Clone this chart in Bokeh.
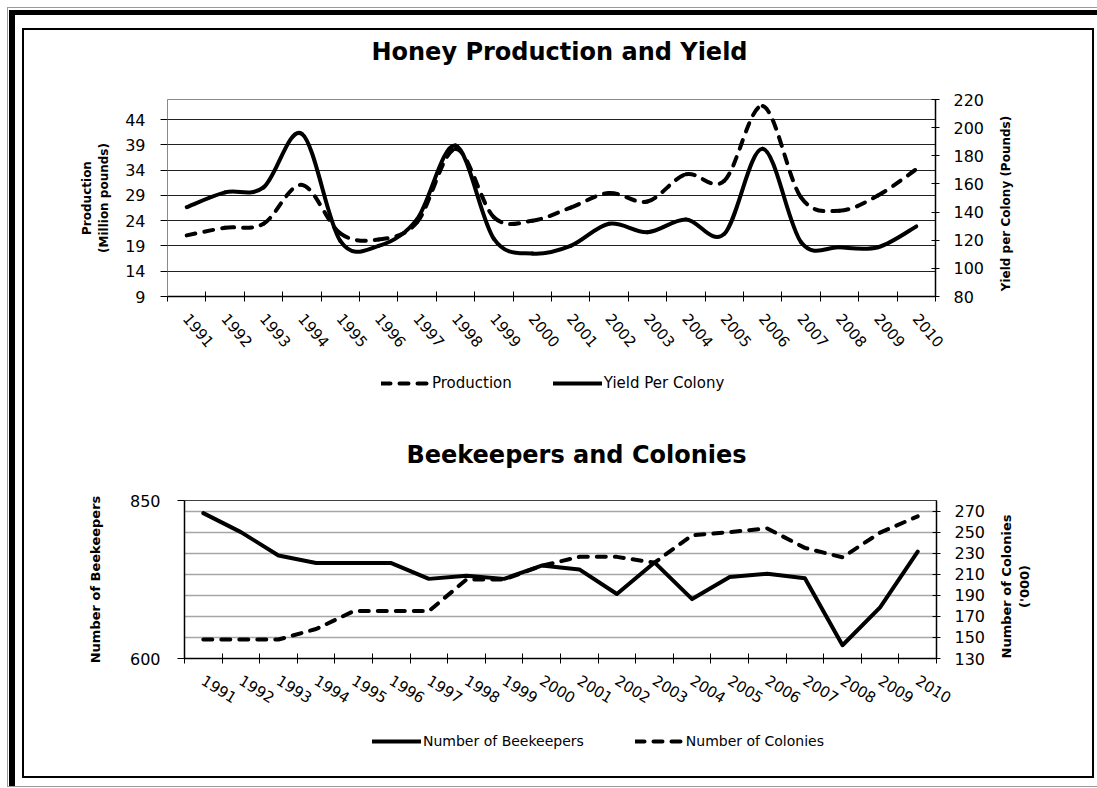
import math
from bokeh.plotting import figure
from bokeh.models import (Range1d, LinearAxis, FixedTicker, Legend, LegendItem,
                          ColumnDataSource, Label)
from bokeh.layouts import column, row
from bokeh.embed import file_html
from bokeh.resources import INLINE

# ---------------- data ----------------
years = [1991, 1992, 1993, 1994, 1995, 1996, 1997, 1998, 1999, 2000,
         2001, 2002, 2003, 2004, 2005, 2006, 2007, 2008, 2009, 2010]
production = [21.1, 22.6, 23.4, 31.1, 21.5, 20.3, 23.7, 38.2, 24.7, 24.0,
              26.6, 29.5, 27.8, 33.2, 31.9, 46.7, 28.6, 26.0, 29.0, 34.2]
yield_per_colony = [143.5, 154.0, 157.5, 195.6, 119.5, 116.0, 135.0, 187.3, 121.0, 110.5,
                    116.0, 131.7, 125.7, 134.7, 124.5, 185.0, 118.6, 115.0, 115.0, 129.8]
beekeepers = [830, 800, 763, 751, 751, 751, 726, 731, 726, 747,
              741, 702, 752, 694, 729, 734, 727, 621, 681, 769]
colonies = [148, 148, 148, 158, 175, 175, 175, 205, 205, 218,
            226.5, 226.5, 221, 247, 250, 253.5, 235, 226, 249.5, 265]

production_ticks = [9, 14, 19, 24, 29, 34, 39, 44]
yield_ticks = [80, 100, 120, 140, 160, 180, 200, 220]
beekeeper_ticks = [600, 850]
colony_ticks = [130, 150, 170, 190, 210, 230, 250, 270]

FONT = "DejaVu Sans"
FULL_W = 1068     # inner box content width
CHART_W = 966     # chart part, the rest holds the right-hand axis title
SIDE_W = FULL_W - CHART_W


def smooth_source(xs, ys):
    """Bezier segments through the data points (Catmull-Rom style smoothing)."""
    n = len(xs)
    d = dict(x0=[], y0=[], x1=[], y1=[], cx0=[], cy0=[], cx1=[], cy1=[])
    for i in range(n - 1):
        a = max(i - 1, 0)
        b = min(i + 2, n - 1)
        d["x0"].append(xs[i]); d["y0"].append(ys[i])
        d["x1"].append(xs[i + 1]); d["y1"].append(ys[i + 1])
        d["cx0"].append(xs[i] + (xs[i + 1] - xs[a]) / 6.0)
        d["cy0"].append(ys[i] + (ys[i + 1] - ys[a]) / 6.0)
        d["cx1"].append(xs[i + 1] - (xs[b] - xs[i]) / 6.0)
        d["cy1"].append(ys[i + 1] - (ys[b] - ys[i]) / 6.0)
    return ColumnDataSource(d)


def blank(w, h):
    """A figure without axes, used for titles, legends and side labels."""
    f = figure(width=w, height=h, x_range=Range1d(0, w), y_range=Range1d(0, h),
               x_axis_type=None, y_axis_type=None, output_backend="svg",
               toolbar_location=None, min_border=0, frame_align=False,
               background_fill_color="white", border_fill_color="white")
    f.outline_line_color = None
    f.xgrid.visible = False
    f.ygrid.visible = False
    return f


def text_fig(w, h, text, x, y, size, angle=0.0, bold=True):
    f = blank(w, h)
    f.add_layout(Label(x=x, y=y, text=text, angle=angle, text_align="center",
                       text_baseline="middle", text_font=FONT, text_font_size=size,
                       text_font_style="bold" if bold else "normal", text_color="black"))
    return f


def style_xaxis(ax, angle, standoff):
    ax.ticker = FixedTicker(ticks=years, minor_ticks=[y - 0.5 for y in years] + [years[-1] + 0.5])
    ax.major_tick_in = 0
    ax.major_tick_out = 0
    ax.minor_tick_in = 5
    ax.minor_tick_out = 5
    ax.minor_tick_line_color = "black"
    ax.minor_tick_line_width = 1
    ax.axis_line_color = "black"
    ax.axis_line_width = 1.5
    ax.major_label_orientation = angle
    ax.major_label_text_font = FONT
    ax.major_label_text_font_size = "15px"
    ax.major_label_text_color = "black"
    ax.major_label_standoff = standoff


def style_yaxis(ax, ticks, tin, tout, standoff, label=None, label_size="12px", label_standoff=10):
    ax.ticker = FixedTicker(ticks=ticks)
    ax.minor_tick_line_color = None
    ax.major_tick_in = tin
    ax.major_tick_out = tout
    ax.major_tick_line_color = "black"
    ax.major_label_text_font = FONT
    ax.major_label_text_font_size = "16px"
    ax.major_label_text_color = "black"
    ax.major_label_standoff = standoff
    if label:
        ax.axis_label = label
        ax.axis_label_text_font = FONT
        ax.axis_label_text_font_size = label_size
        ax.axis_label_text_font_style = "bold"
        ax.axis_label_text_color = "black"
        ax.axis_label_standoff = label_standoff


def legend_fig(h, items, x, y, spacing, size):
    """Legend strip; its key renderers sit outside the visible range (legend proxies only)."""
    f = blank(FULL_W, h)
    legend_items = []
    for label, dash in items:
        r = f.line(x=[-60, -50], y=[-60, -60], line_color="black", line_width=4,
                   line_dash=dash, line_cap="round")
        legend_items.append(LegendItem(label=label, renderers=[r]))
    f.add_layout(Legend(items=legend_items, orientation="horizontal", location=(x, y),
                        border_line_color=None, background_fill_alpha=0, glyph_width=49,
                        glyph_height=20, label_standoff=2, spacing=spacing, padding=0, margin=0,
                        label_text_font=FONT, label_text_font_size=size,
                        label_text_color="black"))
    return f


# ---------------- top chart ----------------
t1 = text_fig(FULL_W, 45, "Honey Production and Yield", 535, 24, "24px")

p1 = figure(width=CHART_W, height=283, x_range=Range1d(1990.5, 2010.5), y_range=Range1d(9, 48),
            output_backend="svg", toolbar_location=None, frame_align=False,
            min_border_left=143, min_border_right=55, min_border_top=24, min_border_bottom=62,
            background_fill_color="white", border_fill_color="white")
p1.extra_y_ranges = {"yld": Range1d(80, 220)}
p1.outline_line_color = "#8a8a8a"

style_xaxis(p1.xaxis[0], -0.87, 14)
style_yaxis(p1.yaxis[0], production_ticks, 0, 7, 15, "Production\n(Million pounds)", "12px", 11)
p1.yaxis[0].axis_line_color = "#8a8a8a"
rax1 = LinearAxis(y_range_name="yld")
style_yaxis(rax1, yield_ticks, 4, 4, 14)
rax1.axis_line_color = "black"
rax1.axis_line_width = 1.5
p1.add_layout(rax1, "right")

p1.xgrid.visible = False
p1.ygrid.grid_line_color = "#202020"
p1.ygrid.grid_line_width = 1

p1.bezier(x0="x0", y0="y0", x1="x1", y1="y1", cx0="cx0", cy0="cy0", cx1="cx1", cy1="cy1",
          source=smooth_source(years, production), line_color="black", line_width=4,
          line_dash="9 9", line_cap="round")
p1.bezier(x0="x0", y0="y0", x1="x1", y1="y1", cx0="cx0", cy0="cy0", cx1="cx1", cy1="cy1",
          source=smooth_source(years, yield_per_colony), line_color="black", line_width=4,
          line_cap="round", y_range_name="yld")

side1 = text_fig(SIDE_W, 283, "Yield per Colony (Pounds)", 15, 155, "12px", angle=math.pi / 2)
leg1 = legend_fig(50, [("Production", "9 9"), ("Yield Per Colony", "solid")], 357, 15, 41, "15px")

# ---------------- bottom chart ----------------
t2 = text_fig(FULL_W, 70, "Beekeepers and Colonies", 552, 24, "24px")

p2 = figure(width=CHART_W, height=234, x_range=Range1d(1990.5, 2010.5), y_range=Range1d(600, 850),
            output_backend="svg", toolbar_location=None, frame_align=False,
            min_border_left=160, min_border_right=54, min_border_top=22, min_border_bottom=54,
            background_fill_color="white", border_fill_color="white")
p2.extra_y_ranges = {"col": Range1d(130, 280)}
p2.outline_line_color = "#404040"

style_xaxis(p2.xaxis[0], -0.56, 15)
style_yaxis(p2.yaxis[0], beekeeper_ticks, 0, 7, 17, "Number of Beekeepers", "13px", 24)
p2.yaxis[0].axis_line_color = "black"
p2.yaxis[0].axis_line_width = 1.5
rax2 = LinearAxis(y_range_name="col")
style_yaxis(rax2, colony_ticks, 4, 4, 14)
rax2.axis_line_color = "black"
rax2.axis_line_width = 1.5
p2.add_layout(rax2, "right")

p2.xgrid.visible = False
p2.ygrid.y_range_name = "col"
p2.ygrid.ticker = FixedTicker(ticks=colony_ticks)
p2.ygrid.grid_line_color = "#a6a6a6"
p2.ygrid.grid_line_width = 1.5

p2.line(years, beekeepers, line_color="black", line_width=4, line_join="round", line_cap="round")
p2.line(years, colonies, line_color="black", line_width=4, line_dash="9 9",
        line_cap="round", line_join="round", y_range_name="col")

side2 = text_fig(SIDE_W, 234, "Number of Colonies\n('000)", 25, 126, "13px", angle=math.pi / 2)
leg2 = legend_fig(64, [("Number of Beekeepers", "solid"), ("Number of Colonies", "9 9")],
                  348, 25, 51, "14px")

# page frame: thin grey rule, thick black rule, inner box
box = column(t1, row(p1, side1, spacing=0), leg1, t2, row(p2, side2, spacing=0), leg2,
             spacing=0, styles={"border": "2px solid black", "background": "white"})
rule = column(box, styles={"border-top": "5px solid black", "border-left": "6px solid black",
                           "padding-left": "7px", "padding-top": "13px",
                           "padding-bottom": "8px", "padding-right": "3px"})
page = column(rule, styles={"margin-left": "7px", "margin-top": "7px",
                            "border-top": "1px solid #999999", "border-left": "1px solid #999999",
                            "border-bottom": "1px solid #999999",
                            "padding-left": "1px", "padding-top": "2px"})

open("out.html", "w").write(file_html(page, INLINE, title="Honey"))
